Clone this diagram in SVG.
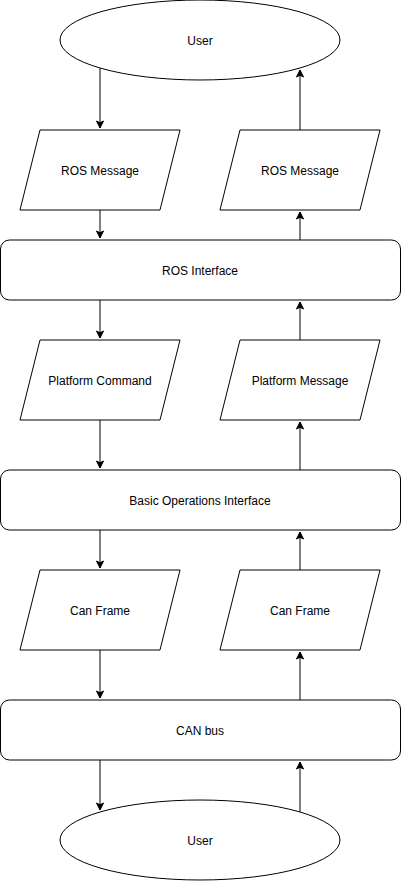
<svg xmlns="http://www.w3.org/2000/svg" width="401" height="881" viewBox="0 0 401 881">
<style>
.s{fill:#fff;stroke:#000;stroke-width:1}
.t{font-family:"Liberation Sans",Arial,sans-serif;font-size:12px;fill:#000;text-anchor:middle;dominant-baseline:central}
.c{fill:none;stroke:#000;stroke-width:1}
</style>
<defs>
<marker id="a" markerUnits="userSpaceOnUse" markerWidth="10" markerHeight="10" viewBox="0 0 10 10" refX="8" refY="5" orient="auto">
<path d="M1,1.5 L8,5 L1,8.5 L2.75,5 Z" fill="#000" stroke="#000" stroke-width="1"/>
</marker>
</defs>
<rect width="401" height="881" fill="#fff"/>
<g id="connectors">
<path class="c" d="M100,68 V128" marker-end="url(#a)"/>
<path class="c" d="M300,130 V70" marker-end="url(#a)"/>
<path class="c" d="M100,210 V238" marker-end="url(#a)"/>
<path class="c" d="M300,240 V212" marker-end="url(#a)"/>
<path class="c" d="M100,300 V338" marker-end="url(#a)"/>
<path class="c" d="M300,340 V302" marker-end="url(#a)"/>
<path class="c" d="M100,420 V468" marker-end="url(#a)"/>
<path class="c" d="M300,470 V422" marker-end="url(#a)"/>
<path class="c" d="M100,530 V568" marker-end="url(#a)"/>
<path class="c" d="M300,570 V532" marker-end="url(#a)"/>
<path class="c" d="M100,650 V698" marker-end="url(#a)"/>
<path class="c" d="M300,700 V652" marker-end="url(#a)"/>
<path class="c" d="M100,760 V810" marker-end="url(#a)"/>
<path class="c" d="M300,812 V762" marker-end="url(#a)"/>
</g>
<g id="user-top"><ellipse class="s" cx="200" cy="40" rx="140" ry="40"/><text class="t" x="200" y="41">User</text></g>
<g id="ros-msg-left"><path class="s" d="M40,130 H180 L160,210 H20 Z"/><text class="t" x="100" y="171">ROS Message</text></g>
<g id="ros-msg-right"><path class="s" d="M240,130 H380 L360,210 H220 Z"/><text class="t" x="300" y="171">ROS Message</text></g>
<g id="ros-interface"><rect class="s" x="0.5" y="240" width="400" height="60" rx="9"/><text class="t" x="200" y="271">ROS Interface</text></g>
<g id="platform-command"><path class="s" d="M40,340 H180 L160,420 H20 Z"/><text class="t" x="100" y="381">Platform Command</text></g>
<g id="platform-message"><path class="s" d="M240,340 H380 L360,420 H220 Z"/><text class="t" x="300" y="381">Platform Message</text></g>
<g id="basic-ops"><rect class="s" x="0.5" y="470" width="400" height="60" rx="9"/><text class="t" x="200" y="501">Basic Operations Interface</text></g>
<g id="can-frame-left"><path class="s" d="M40,570 H180 L160,650 H20 Z"/><text class="t" x="100" y="611">Can Frame</text></g>
<g id="can-frame-right"><path class="s" d="M240,570 H380 L360,650 H220 Z"/><text class="t" x="300" y="611">Can Frame</text></g>
<g id="can-bus"><rect class="s" x="0.5" y="700" width="400" height="60" rx="9"/><text class="t" x="200" y="731">CAN bus</text></g>
<g id="user-bottom"><ellipse class="s" cx="200" cy="840" rx="140" ry="40"/><text class="t" x="200" y="841">User</text></g>
</svg>
